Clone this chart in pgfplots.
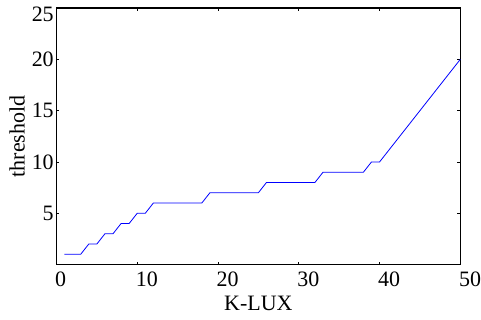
\documentclass[border=0pt]{standalone}
\usepackage{fontspec}
\setmainfont{Liberation Serif}
\usepackage{pgfplots}
\pgfplotsset{compat=1.18}
\begin{document}
\begin{tikzpicture}[font=\fontsize{22bp}{26bp}\selectfont]
\begin{axis}[
  scale only axis,
  width=404.5bp, height=257bp,
  xmin=0, xmax=50, ymin=0, ymax=25,
  xtick={0,10,20,30,40,50},
  ytick={5,10,15,20},
  extra y ticks={25},
  extra y tick style={yticklabel style={yshift=-6bp}},
  /pgf/number format/assume math mode=true,
  tick align=inside,
  major tick length=3bp,
  axis line style={line width=1.2bp},
  every tick/.style={black, line width=0.6bp},
  xticklabel style={anchor=north west, inner sep=0pt, xshift=-1.5bp, yshift=-7.5bp},
  yticklabel style={anchor=east, inner sep=0pt, xshift=-2.5bp},
  xlabel={K-LUX},
  ylabel={threshold},
  xlabel style={at={(axis description cs:0.5,-0.1233)}, anchor=north, inner sep=0pt},
  ylabel style={at={(axis description cs:-0.0779,0.5)}, anchor=south, inner sep=0pt},
]
\addplot[blue, line width=0.8bp] coordinates {
(1,1)(3,1)(4,2)(5,2)(6,3)(7,3)(8,4)(9,4)(10,5)(11,5)(12,6)(18,6)(19,7)(25,7)(26,8)(32,8)(33,9)(38,9)(39,10)(40,10)
(41,11)(42,12)(43,13)(44,14)(45,15)(46,16)(47,17)(48,18)(49,19)(50,20)
};
\end{axis}
\path ([shift={(-56.5bp,-55bp)}]current axis.south west) rectangle ([shift={(20bp,8bp)}]current axis.north east);
\end{tikzpicture}
\end{document}
